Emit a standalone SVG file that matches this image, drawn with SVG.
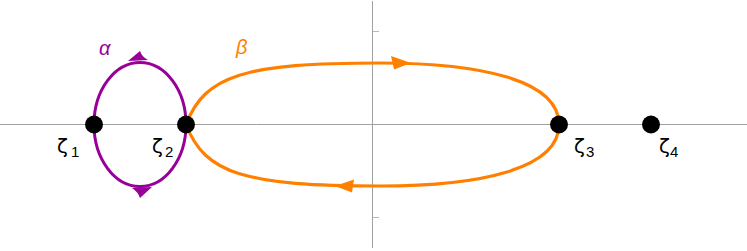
<svg xmlns="http://www.w3.org/2000/svg" width="747" height="251" viewBox="0 0 747 251">
<style>
.axis{stroke:#a0a0a0;stroke-width:1;fill:none}
.tick{stroke:#b8b8b8;stroke-width:1}
.alpha{stroke:#990099;stroke-width:3;fill:none}
.beta{stroke:#ff8000;stroke-width:3.2;fill:none}
.ahA{fill:#990099}
.ahB{fill:#ff8000}
.pt{fill:#000}
.lbl{font-family:"DejaVu Sans","Liberation Sans",sans-serif;font-size:20px;fill:#000}
.sub{font-family:"Liberation Sans",Arial,sans-serif;font-size:15px}
.glbl{font-family:"Liberation Sans",Arial,sans-serif;font-size:20px;font-style:italic}
</style>
<g id="axes">
<line class="axis" x1="0" y1="124.5" x2="747" y2="124.5"/>
<line class="axis" x1="372.5" y1="1" x2="372.5" y2="248" stroke="#909090"/>
<line class="tick" x1="373" y1="31.5" x2="379" y2="31.5"/>
<line class="tick" x1="373" y1="217.5" x2="379" y2="217.5"/>
</g>
<g id="connectors">
<g id="alpha">
<ellipse class="alpha" cx="140" cy="124.5" rx="46" ry="62"/>
<path class="ahA" d="M140,51 L128,61 L148,60 Q142,57 140,51 Z"/>
<path class="ahA" d="M132,188 L152,187 L140,198 Q138,192 132,188 Z"/>
</g>
<g id="beta">
<path class="beta" d="M186,124.5 C205,75 245,63 380,63 C480,63 559,80 559,124.5 C559,169 480,186 380,186 C245,186 205,174 186,124.5 Z"/>
<polygon class="ahB" points="391,56 411,63 394,69.5"/>
<polygon class="ahB" points="335,186 354,179.5 352,192.5"/>
</g>
</g>
<g id="labels">
<text class="glbl" x="99" y="55" fill="#990099">α</text>
<text class="glbl" x="236" y="54" fill="#ff8000">β</text>
</g>
<g id="z1">
<circle class="pt" cx="94" cy="124.5" r="9"/>
<text class="lbl" x="57" y="153">ζ<tspan class="sub" x="71" y="157">1</tspan></text>
</g>
<g id="z2">
<circle class="pt" cx="186" cy="124.5" r="9"/>
<text class="lbl" x="152" y="153">ζ<tspan class="sub" x="165" y="157">2</tspan></text>
</g>
<g id="z3">
<circle class="pt" cx="559" cy="124.5" r="9"/>
<text class="lbl" x="574" y="153">ζ<tspan class="sub" x="586" y="157">3</tspan></text>
</g>
<g id="z4">
<circle class="pt" cx="651" cy="124.5" r="9"/>
<text class="lbl" x="659" y="153">ζ<tspan class="sub" x="670" y="157">4</tspan></text>
</g>
</svg>
